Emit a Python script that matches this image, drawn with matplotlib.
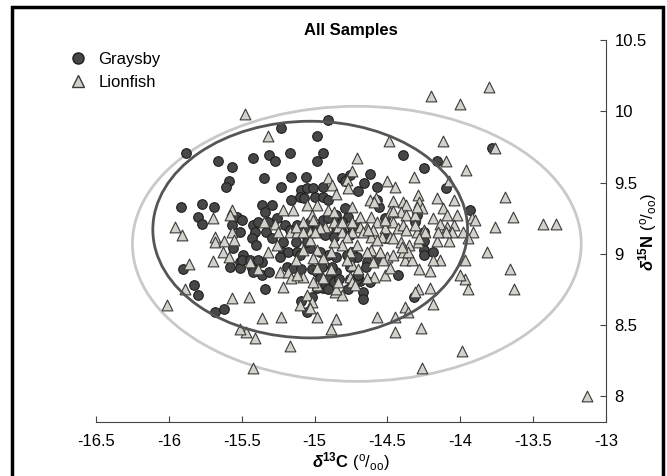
import matplotlib
matplotlib.use("Agg")
import matplotlib.pyplot as plt
from matplotlib.patches import Ellipse, Rectangle
from matplotlib.lines import Line2D

plt.rcParams['font.family'] = ['Liberation Sans', 'DejaVu Sans']
plt.rcParams['mathtext.fontset'] = 'custom'
plt.rcParams['mathtext.rm'] = 'Liberation Sans'
plt.rcParams['mathtext.it'] = 'Liberation Sans:italic'
plt.rcParams['mathtext.bf'] = 'Liberation Sans:bold'
plt.rcParams['mathtext.bfit'] = 'Liberation Sans:italic:bold'

# Graysby d13C / d15N
graysby_c13 = [-15.88, -15.66, -15.57, -15.42, -15.31, -15.27, -15.17, -15.23, -14.98, -14.91,
               -14.94, -14.98, -15.59, -15.61, -15.35, -15.23, -15.16, -15.06, -15.09, -15.05,
               -15.10, -15.07, -15.01, -15.00, -14.94, -14.94, -14.91, -15.16, -15.92, -15.77,
               -15.69, -15.80, -15.77, -15.53, -15.50, -15.57, -15.36, -15.34, -15.29, -15.42,
               -15.41, -15.26, -15.20, -15.12, -15.08, -15.03, -14.98, -15.17, -15.51, -14.94,
               -14.39, -14.16, -14.25, -13.78, -14.10, -13.93, -14.81, -14.76, -14.79, -14.62,
               -14.66, -14.57, -14.70, -14.56, -14.57, -14.52, -14.31, -14.79, -14.77, -14.72,
               -14.81, -14.85, -14.91, -14.96, -15.01, -15.05, -15.10, -15.90, -15.83, -15.80,
               -15.68, -15.62, -15.34, -15.09, -15.05, -15.02, -15.58, -15.51, -15.49, -15.43,
               -15.51, -15.42, -15.36, -15.31, -15.36, -15.56, -15.50, -15.43, -15.40, -15.33,
               -15.29, -15.22, -15.22, -15.18, -15.12, -15.13, -15.05, -15.19, -15.15, -15.09,
               -15.02, -14.98, -14.95, -14.91, -14.94, -14.98, -15.32, -15.39, -14.25, -14.25,
               -14.25, -14.19, -14.57, -14.43, -14.32, -14.67, -14.67, -14.77, -14.69, -14.62,
               -14.96, -14.85, -14.78, -14.74, -14.71, -14.64, -14.85, -14.91, -14.96, -15.03,
               -14.93, -14.87, -14.81, -14.76, -14.74, -14.91, -14.87, -14.83, -14.76, -14.71,
               -14.30, -14.85, -14.85, -14.25, -14.52, -15.44, -15.39, -15.24, -15.10, -15.05,
               -14.76, -14.65, -14.76, -14.88, -14.70]
graysby_n15 = [9.71, 9.65, 9.61, 9.67, 9.69, 9.65, 9.71, 9.88, 9.83, 9.94,
               9.71, 9.65, 9.51, 9.47, 9.53, 9.47, 9.54, 9.54, 9.45, 9.46,
               9.40, 9.39, 9.46, 9.40, 9.47, 9.40, 9.38, 9.38, 9.33, 9.35,
               9.33, 9.26, 9.21, 9.26, 9.24, 9.20, 9.34, 9.29, 9.34, 9.20,
               9.15, 9.25, 9.20, 9.20, 9.19, 9.22, 9.19, 9.17, 9.15, 9.24,
               9.69, 9.65, 9.60, 9.74, 9.46, 9.31, 9.53, 9.55, 9.51, 9.56,
               9.50, 9.47, 9.44, 9.33, 9.38, 9.25, 9.22, 9.32, 9.26, 9.20,
               9.22, 9.15, 9.25, 9.15, 9.15, 9.12, 9.15, 8.89, 8.78, 8.71,
               8.59, 8.61, 8.75, 8.67, 8.59, 8.70, 8.91, 8.94, 8.99, 8.90,
               8.90, 8.87, 8.85, 8.87, 8.94, 9.04, 8.96, 9.11, 9.06, 9.15,
               9.11, 9.08, 9.01, 9.01, 9.01, 9.08, 9.17, 8.91, 8.90, 8.89,
               8.89, 8.87, 8.91, 8.82, 8.76, 8.76, 9.22, 9.22, 9.09, 9.03,
               8.99, 9.01, 8.96, 8.85, 8.70, 8.73, 8.68, 8.75, 8.81, 8.80,
               8.83, 8.87, 8.99, 9.01, 8.98, 8.94, 8.98, 8.99, 9.01, 9.04,
               9.13, 9.12, 9.15, 9.13, 9.19, 8.75, 8.80, 8.82, 8.82, 8.82,
               9.27, 9.27, 9.19, 9.15, 9.11, 8.96, 8.96, 8.98, 8.99, 9.08,
               8.96, 8.91, 8.91, 8.91, 8.85]

# Lionfish d13C / d15N
lionfish_c13 = [-15.48, -15.32, -15.57, -15.58, -15.70, -15.96, -15.91, -15.68, -15.22, -15.15,
                -15.35, -15.27, -15.05, -14.98, -14.91, -14.91, -15.02, -15.01, -15.17, -15.12,
                -15.25, -15.57, -14.93, -14.00, -14.20, -13.80, -14.49, -14.12, -14.71, -13.76,
                -14.10, -13.96, -14.74, -14.32, -14.08, -14.88, -14.78, -14.50, -14.45, -14.85,
                -14.58, -14.62, -14.46, -14.39, -14.37, -14.29, -14.28, -14.26, -14.16, -14.04,
                -14.74, -14.87, -14.48, -14.41, -14.37, -14.12, -14.09, -14.02, -13.92, -14.19,
                -14.31, -14.69, -14.61, -14.57, -14.64, -14.69, -14.67, -14.52, -14.46, -14.43,
                -14.39, -14.37, -14.25, -14.30, -14.31, -14.14, -14.09, -14.04, -14.06, -13.98,
                -13.91, -13.76, -15.08, -14.96, -15.03, -14.87, -14.84, -14.81, -14.74, -14.78,
                -14.61, -14.54, -14.48, -13.69, -13.64, -13.90, -13.43, -13.34, -13.95, -13.82,
                -13.97, -13.66, -13.97, -13.95, -14.00, -13.63, -13.99, -13.13, -15.42, -15.17,
                -15.41, -15.47, -15.51, -15.36, -15.23, -15.57, -15.45, -15.22, -16.01, -15.89,
                -15.86, -15.70, -15.68, -15.62, -15.63, -15.59, -15.55, -15.44, -15.39, -15.32,
                -15.26, -15.13, -15.08, -15.24, -15.18, -15.16, -15.08, -15.13, -15.05, -15.02,
                -14.98, -15.03, -14.98, -14.94, -14.98, -15.03, -15.00, -14.19, -14.21, -14.29,
                -14.31, -14.57, -14.45, -14.38, -14.36, -14.45, -14.27, -14.26, -14.85, -14.89,
                -15.10, -14.86, -14.81, -14.59, -14.52, -14.48, -14.50, -14.46, -14.28, -14.21,
                -14.38, -14.33, -14.39, -14.14, -14.19, -14.08, -14.16, -14.10, -14.15, -14.29,
                -14.35, -14.41, -14.46, -14.57, -14.60, -14.24, -14.36, -14.40, -14.61, -14.60,
                -14.53, -14.64, -14.55, -14.71, -14.76, -14.81, -14.87, -14.89, -15.01, -15.08,
                -14.81, -14.74, -14.63, -14.52, -14.74, -14.70, -14.78, -14.98, -14.89, -14.94,
                -15.01, -14.85, -14.77, -14.59, -14.30, -14.46, -14.28, -14.64, -14.76, -14.74,
                -14.84, -14.72, -15.12]
lionfish_n15 = [9.98, 9.83, 9.31, 9.27, 9.25, 9.19, 9.13, 9.12, 9.31, 9.31,
                9.22, 9.21, 9.34, 9.34, 9.53, 9.31, 9.27, 9.24, 9.15, 9.15,
                9.15, 9.15, 9.19, 10.05, 10.11, 10.17, 9.79, 9.79, 9.67, 9.74,
                9.65, 9.59, 9.58, 9.54, 9.51, 9.48, 9.52, 9.51, 9.47, 9.42,
                9.39, 9.38, 9.37, 9.36, 9.34, 9.41, 9.36, 9.32, 9.39, 9.38,
                9.33, 9.29, 9.29, 9.29, 9.27, 9.32, 9.27, 9.27, 9.25, 9.25,
                9.27, 9.26, 9.26, 9.22, 9.18, 9.19, 9.15, 9.18, 9.22, 9.18,
                9.20, 9.17, 9.17, 9.15, 9.20, 9.21, 9.19, 9.20, 9.15, 9.15,
                9.15, 9.19, 9.22, 9.18, 9.15, 9.22, 9.19, 9.15, 9.15, 9.12,
                9.12, 9.12, 9.12, 9.40, 9.26, 9.24, 9.21, 9.21, 9.11, 9.01,
                8.96, 8.89, 8.82, 8.75, 8.85, 8.75, 8.32, 8.00, 8.20, 8.35,
                8.41, 8.45, 8.47, 8.55, 8.56, 8.69, 8.70, 8.77, 8.64, 8.75,
                8.93, 8.95, 9.08, 9.09, 9.01, 8.98, 9.10, 8.94, 8.89, 9.01,
                9.06, 9.19, 9.15, 8.87, 8.87, 8.83, 8.84, 8.96, 8.71, 8.66,
                8.56, 8.62, 8.78, 8.97, 9.03, 9.10, 9.15, 8.65, 8.76, 8.75,
                8.73, 8.56, 8.56, 8.63, 8.59, 8.45, 8.48, 8.20, 8.54, 8.47,
                8.64, 8.73, 8.71, 8.84, 8.85, 8.90, 8.98, 8.99, 8.89, 8.88,
                8.96, 8.96, 9.01, 8.96, 8.96, 9.09, 9.09, 9.15, 9.15, 9.08,
                9.06, 9.08, 9.11, 9.10, 9.17, 9.15, 9.01, 9.05, 9.03, 8.94,
                8.96, 9.01, 9.01, 9.06, 9.01, 9.06, 9.08, 9.01, 8.97, 9.03,
                9.22, 9.22, 9.17, 9.24, 8.92, 8.89, 8.96, 8.90, 8.89, 8.83,
                8.80, 8.75, 9.46, 9.36, 9.33, 9.30, 9.11, 8.83, 8.84, 8.80,
                8.80, 8.78, 8.85]

# standard ellipses: (centre x, centre y, width, height)
graysby_ellipse = (-15.03, 9.17, 2.16, 1.52)
lionfish_ellipse = (-14.71, 9.07, 3.08, 1.93)

xticks = [-16.5, -16, -15.5, -15, -14.5, -14, -13.5, -13]
yticks = [8, 8.5, 9, 9.5, 10, 10.5]

fig = plt.figure(figsize=(6.67, 4.76), dpi=100)
ax = fig.add_axes([96/667, 1-422/476, 510/667, 382/476])

ax.scatter(graysby_c13, graysby_n15, s=48, marker='o', facecolor='#474747',
           edgecolor='#1e1e1e', linewidth=0.8, zorder=3)
ax.scatter(lionfish_c13, lionfish_n15, s=60, marker='^', facecolor='#d3d1c9',
           edgecolor='#3a3a3a', linewidth=0.8, zorder=4)

cx, cy, w, h = graysby_ellipse
ax.add_patch(Ellipse((cx, cy), w, h, fill=False, edgecolor='#555555', lw=2.0, zorder=5))
cx, cy, w, h = lionfish_ellipse
ax.add_patch(Ellipse((cx, cy), w, h, fill=False, edgecolor='#c9c9c9', lw=2.0, zorder=2))

ax.set_xlim(-16.5, -13)
ax.set_ylim(7.82, 10.5)
ax.set_xticks(xticks)
ax.set_xticklabels(['%g' % t for t in xticks])
ax.set_yticks(yticks)
ax.set_yticklabels(['%g' % t for t in yticks])
ax.spines['top'].set_visible(False)
ax.spines['left'].set_visible(False)
for sp in ['right', 'bottom']:
    ax.spines[sp].set_color('#444444')
    ax.spines[sp].set_linewidth(0.8)
ax.yaxis.tick_right()
ax.tick_params(direction='in', length=4, width=0.8, color='#444444', labelsize=12)
ax.tick_params(axis='x', pad=9)
ax.tick_params(axis='y', pad=6)

fig.text(351/667, 1-462/476,
         r'$\boldsymbol{\delta}^{\mathbf{13}}\mathbf{C}$ ($^{\mathrm{o}}$/$_{\mathrm{oo}}$)',
         fontsize=12, ha='center', va='center')
fig.text(648/667, 1-232/476,
         r'$\boldsymbol{\delta}^{\mathbf{15}}\mathbf{N}$ ($^{\mathrm{o}}$/$_{\mathrm{oo}}$)',
         fontsize=12, rotation=90, ha='center', va='center')

fig.text(351/667, 1-30/476, 'All Samples', fontsize=12, fontweight='bold',
         ha='center', va='center')

handles = [Line2D([], [], marker='o', ls='none', markersize=8, markerfacecolor='#474747',
                  markeredgecolor='#1e1e1e', label='Graysby'),
           Line2D([], [], marker='^', ls='none', markersize=9, markerfacecolor='#d3d1c9',
                  markeredgecolor='#3a3a3a', label='Lionfish')]
fig.legend(handles=handles, loc='upper left', bbox_to_anchor=(60/667, 1-44/476),
           frameon=False, fontsize=12, handletextpad=0.6, labelspacing=0.45,
           borderpad=0, handlelength=1.2)

fig.patches.append(Rectangle((12/667, -0.05), 651/667, 1.05-7/476, transform=fig.transFigure,
                             fill=False, edgecolor='black', lw=2.5, zorder=10))

fig.savefig('out.png', dpi=100)
